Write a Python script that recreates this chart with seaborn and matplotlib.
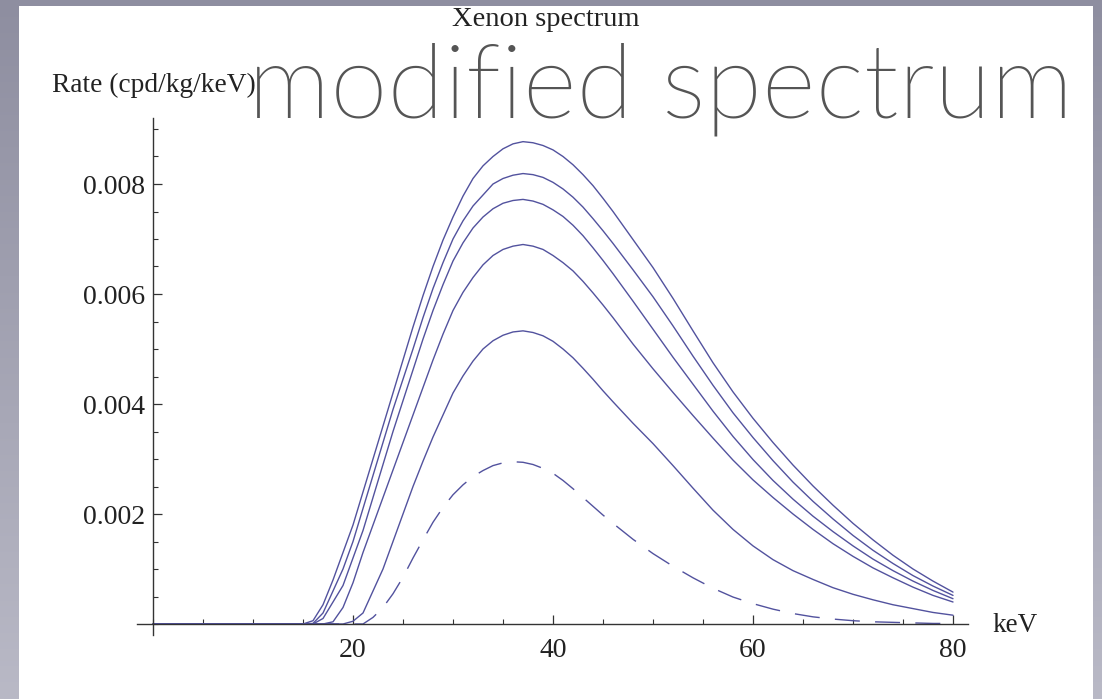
import os
import numpy as np
import matplotlib
matplotlib.use("Agg")
import matplotlib.pyplot as plt
from matplotlib import font_manager as fm
from matplotlib.patches import Rectangle
from matplotlib.colors import LinearSegmentedColormap
from matplotlib.ticker import MultipleLocator, FixedLocator
import seaborn as sns

# Recoil energy grid (keV)
energy = [0] + list(range(14, 47)) + list(range(48, 81, 2))

# Differential rates (cpd/kg/keV) for the modified spectra
rate_a = [0,
          0, 0, 0.00006, 0.00035, 0.0008, 0.0013, 0.0018, 0.0024, 0.0030, 0.0036, 0.0042,
          0.0048, 0.0054, 0.00597, 0.0065, 0.00698, 0.0074, 0.00778, 0.0081, 0.00833, 0.0085,
          0.00864, 0.00873, 0.00877, 0.00875, 0.00870, 0.00862, 0.00850, 0.00835, 0.00817, 0.00797,
          0.00774, 0.00750,
          0.00699, 0.00648, 0.00592, 0.00533, 0.00475, 0.00422, 0.00374, 0.00330, 0.00289,
          0.00251, 0.00216, 0.00183, 0.00153, 0.00125, 0.00100, 0.00078, 0.00058]
rate_b = [0,
          0, 0, 0.00001, 0.0002, 0.0006, 0.0010, 0.0015, 0.0021, 0.0027, 0.0033, 0.0039,
          0.00445, 0.0050, 0.00557, 0.0061, 0.00657, 0.0070, 0.00733, 0.0076, 0.0078, 0.0080,
          0.00810, 0.00816, 0.00819, 0.00817, 0.00812, 0.00803, 0.00791, 0.00776, 0.00758, 0.00737,
          0.00715, 0.00692,
          0.00644, 0.00595, 0.00542, 0.00487, 0.00434, 0.00384, 0.00339, 0.00297, 0.00258,
          0.00223, 0.00191, 0.00161, 0.00134, 0.00110, 0.00088, 0.00069, 0.00052]
rate_c = [0,
          0, 0, 0, 0.0001, 0.0004, 0.0007, 0.0012, 0.0017, 0.0023, 0.0029, 0.0035,
          0.00406, 0.00462, 0.00518, 0.0057, 0.00617, 0.0066, 0.00693, 0.0072, 0.00740, 0.00755,
          0.00765, 0.00770, 0.00772, 0.00769, 0.00763, 0.00753, 0.00741, 0.00725, 0.00706, 0.00684,
          0.00661, 0.00637,
          0.00587, 0.00536, 0.00485, 0.00436, 0.00387, 0.00341, 0.00299, 0.00261, 0.00227,
          0.00196, 0.00168, 0.00142, 0.00118, 0.00097, 0.00078, 0.00061, 0.00046]
rate_d = [0,
          0, 0, 0, 0, 0.00004, 0.0003, 0.00075, 0.0013, 0.0018, 0.0023, 0.0028,
          0.0033, 0.0038, 0.0043, 0.0048, 0.00527, 0.0057, 0.00603, 0.0063, 0.00653, 0.0067,
          0.00681, 0.00687, 0.00690, 0.00687, 0.00681, 0.00670, 0.00657, 0.00642, 0.00623, 0.00602,
          0.00580, 0.00557,
          0.00509, 0.00464, 0.00421, 0.00379, 0.00338, 0.00298, 0.00262, 0.00230, 0.00200,
          0.00172, 0.00146, 0.00123, 0.00102, 0.00084, 0.00067, 0.00052, 0.00040]
rate_e = [0,
          0, 0, 0, 0, 0, 0, 0.00005, 0.0002, 0.0006, 0.0010, 0.0015,
          0.0020, 0.0025, 0.00296, 0.0034, 0.0038, 0.0042, 0.00451, 0.00478, 0.00500, 0.00515,
          0.00525, 0.00531, 0.00533, 0.00530, 0.00524, 0.00514, 0.00500, 0.00484, 0.00465, 0.00445,
          0.00424, 0.00404,
          0.00365, 0.00328, 0.00288, 0.00247, 0.00207, 0.00172, 0.00142, 0.00117, 0.00097,
          0.00081, 0.00066, 0.00054, 0.00044, 0.00035, 0.00028, 0.00021, 0.00016]
# Standard spectrum (dashed)
rate_std = [0,
            0, 0, 0, 0, 0, 0, 0, 0, 0.00012, 0.0003, 0.00055,
            0.00085, 0.0012, 0.00153, 0.00185, 0.00212, 0.00235, 0.00253, 0.00268, 0.00279, 0.00288,
            0.00293, 0.00295, 0.00294, 0.00290, 0.00283, 0.00274, 0.00261, 0.00246, 0.00230, 0.00214,
            0.00198, 0.00183,
            0.00154, 0.00128, 0.00105, 0.00084, 0.00065, 0.00049, 0.00037, 0.00027, 0.00019,
            0.00013, 0.00009, 0.00006, 0.00004, 0.00003, 0.00002, 0.00001, 0.00001]

x_major = [20, 40, 60, 80]
y_major = [0.002, 0.004, 0.006, 0.008]
y_labels = ["0.002", "0.004", "0.006", "0.008"]

sns.set_style("white")
plt.rcParams["lines.scale_dashes"] = False


def heading_font():
    """Pick a light humanist sans for the slide heading."""
    prefs = [("lato", "light"), ("opensans", "light"), ("roboto", "light"), ("notosans", "light")]
    files = [f.fname for f in fm.fontManager.ttflist]
    for fam, style in prefs:
        for fn in files:
            base = os.path.basename(fn).lower().replace("-", "").replace("_", "").replace(" ", "")
            if base.startswith(fam) and style in base and "italic" not in base:
                return fm.FontProperties(fname=fn)
    return fm.FontProperties(family="Lato", weight="normal")


W, H = 1102, 699
fig = plt.figure(figsize=(W / 100, H / 100), dpi=100)

# Slide background: soft vertical gradient with a white content panel
bg = fig.add_axes([0, 0, 1, 1], zorder=-10)
grad = np.linspace(0, 1, 256).reshape(-1, 1)
cmap = LinearSegmentedColormap.from_list("slide", ["#8e8ea0", "#b9b9c6"])
bg.imshow(grad, aspect="auto", cmap=cmap, extent=[0, 1, 0, 1], origin="upper")
bg.add_patch(Rectangle((19 / W, 0), (1093 - 19) / W, 1 - 6 / H, transform=bg.transAxes,
                       facecolor="white", edgecolor="none"))
bg.set_xlim(0, 1)
bg.set_ylim(0, 1)
bg.axis("off")

# Plot axes placed so the data origin sits at the axis crossing
x0, x1 = -1.6, 81.5
y0, y1 = -0.0002, 0.0092
px_left, px_right = 137, 968
px_top, px_bot = 118, 635
ax = fig.add_axes([px_left / W, 1 - px_bot / H, (px_right - px_left) / W, (px_bot - px_top) / H])
ax.patch.set_alpha(0)

line_color = "#52529e"
for rates in [rate_a, rate_b, rate_c, rate_d, rate_e]:
    sns.lineplot(x=energy, y=rates, ax=ax, color=line_color, linewidth=1.0, sort=False)
sns.lineplot(x=energy, y=rate_std, ax=ax, color=line_color, linewidth=1.0, sort=False,
             linestyle=(0, (18, 11)))

ax.set_xlim(x0, x1)
ax.set_ylim(y0, y1)

for side in ["top", "right"]:
    ax.spines[side].set_visible(False)
ax.spines["left"].set_position(("data", 0))
ax.spines["bottom"].set_position(("data", 0))
for side in ["left", "bottom"]:
    ax.spines[side].set_color("#333333")
    ax.spines[side].set_linewidth(1.0)

ax.xaxis.set_major_locator(FixedLocator(x_major))
ax.xaxis.set_minor_locator(MultipleLocator(5))
ax.yaxis.set_major_locator(FixedLocator(y_major))
ax.yaxis.set_minor_locator(MultipleLocator(0.0005))
ax.set_xticklabels([str(v) for v in x_major])
ax.set_yticklabels(y_labels)

serif = "Liberation Serif"
ax.tick_params(which="both", bottom=True, left=True, top=False, right=False)
ax.tick_params(axis="both", which="major", direction="in", length=6.5, width=0.9,
               color="#333333", labelsize=20, labelcolor="#222222")
ax.tick_params(axis="both", which="minor", direction="in", length=3.6, width=0.8, color="#333333")
ax.tick_params(axis="x", which="major", pad=10)
ax.tick_params(axis="y", which="major", pad=6)
for lab in ax.get_xticklabels() + ax.get_yticklabels():
    lab.set_fontfamily(serif)
ax.set_xlabel("")
ax.set_ylabel("")

# Axis captions and plot title
fig.text(52 / W, 1 - 92 / H, "Rate (cpd/kg/keV)", family=serif, fontsize=19.7,
         color="#222222", ha="left", va="baseline")
fig.text(992 / W, 1 - 632 / H, "keV", family=serif, fontsize=19.5,
         color="#222222", ha="left", va="baseline")
fig.text(546 / W, 1 - 26 / H, "Xenon spectrum", family=serif, fontsize=20.5,
         color="#222222", ha="center", va="baseline")

# Slide heading
head = fig.text(248 / W, 1 - 118 / H, "modified spectrum", fontproperties=heading_font(),
                color="#555555", ha="left", va="baseline")
head.set_fontsize(72)
fig.canvas.draw()
r = fig.canvas.get_renderer()
wpx = head.get_window_extent(r).width
head.set_fontsize(72 * (1073 - 248) / wpx)

fig.savefig("out.png", dpi=100)
